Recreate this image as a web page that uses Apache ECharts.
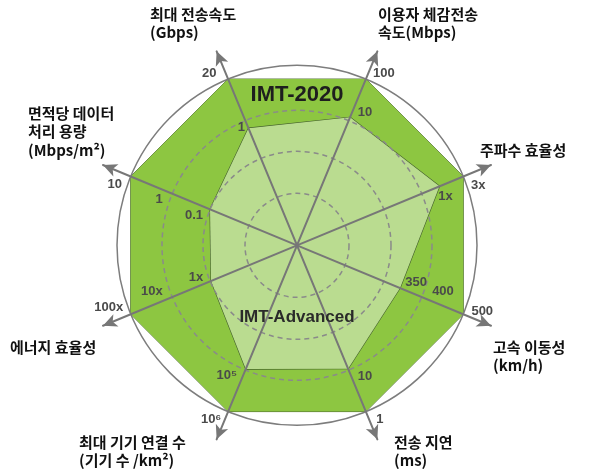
<!DOCTYPE html>
<html>
<head>
    <meta charset="utf-8">
    <title>IMT-2020 vs IMT-Advanced</title>
    <script src="https://cdn.jsdelivr.net/npm/echarts@6/dist/echarts.min.js"></script>
    <style>
        body { margin: 0; background: #fff; }
        #main { width: 600px; height: 470px; }
    </style>
</head>
<body>
    <div id="main"></div>
    <script type="text/javascript">
        // axes, counter-clockwise from the upper-left spoke
        var axisNames = [
            '최대 전송속도\n(Gbps)',
            '면적당 데이터\n처리 용량\n(Mbps/m²)',
            '에너지 효율성',
            '최대 기기 연결 수\n(기기 수 /km²)',
            '전송 지연\n(ms)',
            '고속 이동성\n(km/h)',
            '주파수 효율성',
            '이용자 체감전송\n속도(Mbps)'
        ]
        // relative position on each spoke (100 = outer ring)
        var imt2020 = [100, 100, 100, 100, 100, 100, 100, 100]
        var imtAdvanced = [70.5, 52.3, 51.7, 74.4, 74.2, 62, 85.7, 77]
        var ticks2020 = ['20', '10', '100x', '10⁶', '1', '500', '3x', '100']
        var ticksAdvanced = ['1', '0.1', '1x', '10⁵', '10', '350', '1x', '10']
        var midTicks = ['', '1', '10x', '', '', '400', '', '']
        var midScores = [0, 80.5, 84.3, 0, 0, 84.8, 0, 0]

        // label nudges (px) next to each vertex
        var off2020 = [[-19, -6], [-16, 8], [-22, -7], [-17, 8], [14, 8], [19, -3], [15, 9], [18, -6]]
        var offAdv = [[-7, -1], [-16, 6], [-15, -4], [-19, 6], [17, 8], [16, -6], [6, 10], [15, -5]]
        var offMid = [null, [-4, 10], [-5, -12], null, null, [5, -12], null, null]
        // where the axis titles sit
        var namePos = [[150, 5], [28, 104], [10, 338], [79, 433], [394, 433], [493, 338], [480, 141], [378, 5]]

        var center = ['49.5%', '52.2%']
        var outerMax = 116.7   // 100 lands on the 180px ring, arrows reach 210px

        function ring(r, dashed, z) {
            return {
                center: center, radius: r, startAngle: 112.5, shape: 'circle', splitNumber: 1,
                indicator: axisNames.map(function () { return { name: '', max: 1, min: 0 } }),
                axisName: { show: false },
                axisLine: { show: false },
                axisTick: { show: false },
                axisLabel: { show: false },
                splitArea: { show: false },
                splitLine: { lineStyle: { color: dashed ? '#8a8a8a' : '#7d7d7d', width: 1.5, type: dashed ? [5, 4] : 'solid' } },
                z: z
            }
        }

        function labelItems(values, texts, offs) {
            var items = []
            texts.forEach(function (t, d) {
                if (!t) return
                items.push({
                    value: values.map(function (v, i) { return i === d ? v : 0 }),
                    label: {
                        show: true, position: 'inside', offset: offs[d],
                        formatter: function (p) { return p.dimensionIndex === d ? t : '' }
                    }
                })
            })
            return items
        }

        var myChart = echarts.init(document.getElementById('main'))
        var option = {
            animation: false,
            radar: [
                {
                    center: center, radius: 210, startAngle: 112.5, shape: 'circle',
                    indicator: axisNames.map(function () { return { name: '', max: outerMax, min: 0 } }),
                    axisName: { show: false },
                    axisLine: { lineStyle: { color: '#777', width: 2 }, symbol: ['none', 'arrow'], symbolSize: [10, 14] },
                    splitLine: { show: false },
                    splitArea: { show: false },
                    z: 5
                },
                ring(180, false, 4),
                ring(135, true, 4),
                ring(94, true, 4),
                ring(52, true, 4)
            ],
            series: [
                {
                    type: 'radar', radarIndex: 0, z: 2, symbol: 'none', silent: true,
                    data: [
                        {
                            name: 'IMT-2020', value: imt2020,
                            lineStyle: { color: '#3f5f22', width: 1 },
                            areaStyle: { color: '#8dc641', opacity: 1 }
                        },
                        {
                            name: 'IMT-Advanced', value: imtAdvanced,
                            lineStyle: { color: '#44602c', width: 1.2 },
                            areaStyle: { color: '#badc90', opacity: 1 }
                        }
                    ]
                },
                {
                    type: 'radar', radarIndex: 0, z: 6, silent: true,
                    symbol: 'circle', symbolSize: 1,
                    itemStyle: { color: 'rgba(0,0,0,0)' },
                    lineStyle: { width: 0, opacity: 0 },
                    label: { color: '#4a4a4a', fontSize: 13, fontWeight: 'bold', fontFamily: 'Liberation Sans' },
                    data: labelItems(imt2020, ticks2020, off2020)
                        .concat(labelItems(imtAdvanced, ticksAdvanced, offAdv))
                        .concat(labelItems(midScores, midTicks, offMid))
                }
            ],
            graphic: axisNames.map(function (t, i) {
                return {
                    type: 'text', x: namePos[i][0], y: namePos[i][1], z: 10,
                    style: { text: t, fill: '#111', font: 'bold 15px "Noto Sans CJK KR"', lineHeight: 18.5, align: 'left', verticalAlign: 'top' }
                }
            }).concat([
                {
                    type: 'text', x: 297, y: 95, z: 10,
                    style: { text: 'IMT-2020', fill: '#1e1e1e', font: 'bold 22px "Liberation Sans"', align: 'center', verticalAlign: 'middle' }
                },
                {
                    type: 'text', x: 297, y: 317, z: 10,
                    style: { text: 'IMT-Advanced', fill: '#2a2a2a', font: 'bold 17px "Liberation Sans"', align: 'center', verticalAlign: 'middle' }
                }
            ])
        }
        myChart.setOption(option)
    </script>
</body>
</html>
